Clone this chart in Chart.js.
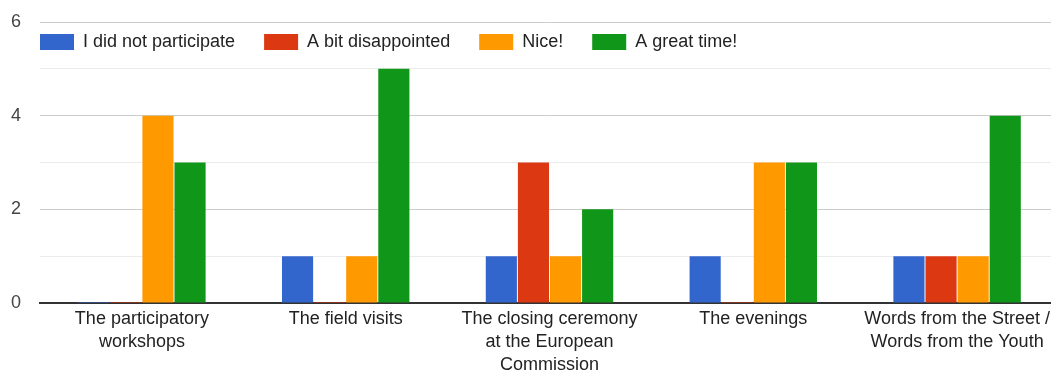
<!DOCTYPE html>
<html>
<head>
<meta charset="utf-8">
<script src="https://cdn.jsdelivr.net/npm/chart.js"></script>
<style>
  html, body { margin: 0; padding: 0; background: #fff; overflow: hidden; }
  #wrap { position: relative; width: 1060px; height: 372px; }
</style>
</head>
<body>
<div id="wrap"><canvas id="chart"></canvas></div>

<script>
const categories = [
    ['The participatory', 'workshops'],
    ['The field visits'],
    ['The closing ceremony', 'at the European', 'Commission'],
    ['The evenings'],
    ['Words from the Street /', 'Words from the Youth']
];
const notParticipated = [0, 1, 1, 1, 1];
const disappointed = [0, 0, 3, 0, 1];
const nice = [4, 1, 1, 3, 1];
const greatTime = [3, 5, 2, 3, 4];
const yTicks = [0, 2, 4, 6];

const font = 'Arial, "Liberation Sans", sans-serif';

function series(label, data, color) {
    return {
        label: label,
        data: data,
        backgroundColor: color,
        borderWidth: 0,
        minBarLength: 1,
        categoryPercentage: 0.63,
        barPercentage: 0.97
    };
}

// legend drawn in a row inside the plot, like the google forms charts
const inlineLegend = {
    id: 'inlineLegend',
    afterDraw(chart) {
        const ctx = chart.ctx;
        let x = chart.chartArea.left;
        const y = 42;
        ctx.save();
        ctx.font = '18px ' + font;
        ctx.textBaseline = 'middle';
        chart.data.datasets.forEach(ds => {
            ctx.fillStyle = ds.backgroundColor;
            ctx.fillRect(x, y - 8, 34, 16);
            ctx.fillStyle = '#222';
            ctx.fillText(ds.label, x + 43, y);
            x += 43 + ctx.measureText(ds.label).width + 29;
        });
        ctx.restore();
    }
};

new Chart(document.getElementById('chart'), {
    type: 'bar',
    data: {
        labels: categories,
        datasets: [
            series('I did not participate', notParticipated, '#3366cc'),
            series('A bit disappointed', disappointed, '#dc3912'),
            series('Nice!', nice, '#ff9900'),
            series('A great time!', greatTime, '#109618')
        ]
    },
    plugins: [inlineLegend],
    options: {
        responsive: true,
        maintainAspectRatio: false,
        animation: false,
        layout: { padding: { top: 22, right: 1, left: 0, bottom: 0 } },
        plugins: {
            tooltip: { enabled: false },
            legend: { display: false }
        },
        scales: {
            x: {
                grid: { display: false },
                border: { display: true, color: '#333', width: 2 },
                ticks: {
                    color: '#222',
                    maxRotation: 0,
                    autoSkip: false,
                    padding: -3,
                    font: { family: font, size: 18, lineHeight: '23px' }
                },
                afterFit: s => { s.height = 69; }
            },
            y: {
                min: 0,
                max: 6,
                border: { display: false },
                grid: {
                    color: c => yTicks.includes(c.tick.value) ? '#cccccc' : '#ebebeb',
                    lineWidth: 1,
                    drawTicks: false
                },
                ticks: {
                    stepSize: 1,
                    color: '#444',
                    padding: 19,
                    font: { family: font, size: 18 },
                    callback: v => yTicks.includes(v) ? v : ''
                },
                afterFit: s => {
                    s.width = 40;
                    s.paddingTop = 0;
                    s.paddingBottom = 0;
                }
            }
        }
    }
});
</script>
</body>
</html>
